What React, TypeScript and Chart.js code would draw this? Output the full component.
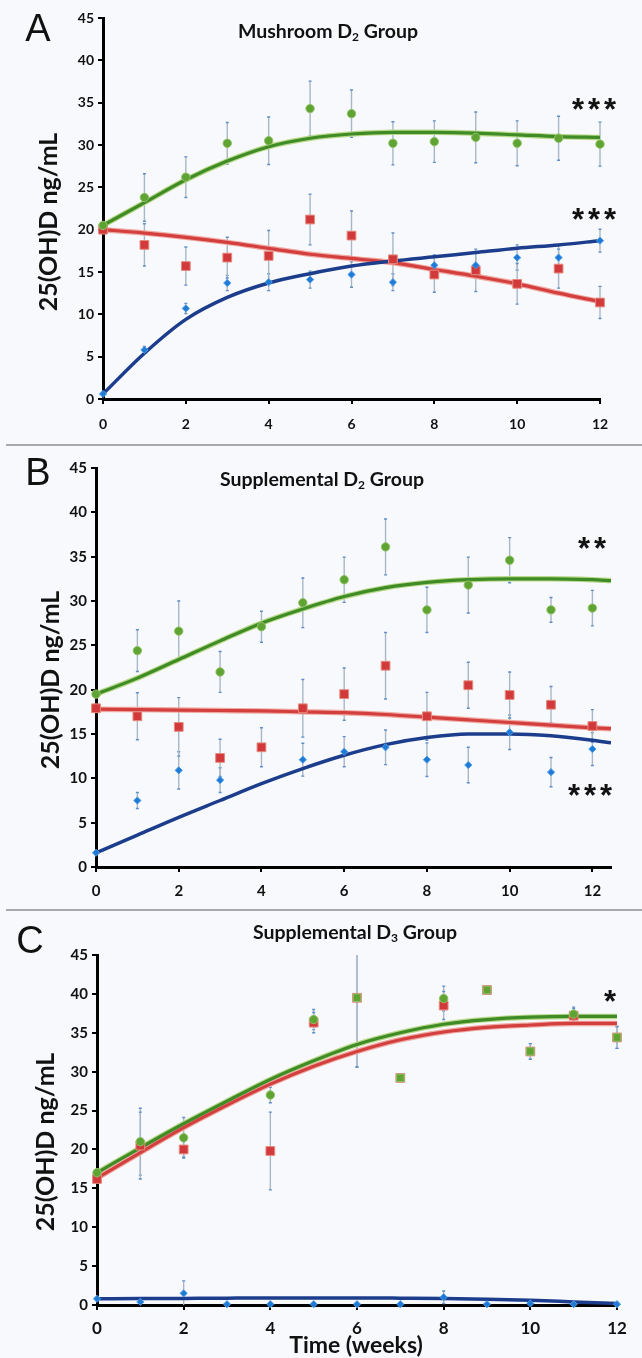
import React, { useEffect, useRef } from "react";
import { Chart, registerables } from "chart.js";
Chart.register(...registerables);

// ---------- shared ----------
const weeks = [0, 1, 2, 3, 4, 5, 6, 7, 8, 9, 10, 11, 12];
const xTickValues = [0, 2, 4, 6, 8, 10, 12];
const yTickValues = [0, 5, 10, 15, 20, 25, 30, 35, 40, 45];
const yAxisTitle = "25(OH)D ng/mL";
const xAxisTitle = "Time (weeks)";

// ---------- Panel A: Mushroom D2 ----------
const aGreen = [20.5, 23.8, 26.2, 30.2, 30.5, 34.3, 33.7, 30.2, 30.4, 30.9, 30.2, 30.8, 30.1];
const aGreenErr = [0, 2.8, 2.4, 2.45, 2.8, 3.25, 2.8, 2.55, 2.45, 3.0, 2.65, 2.6, 2.6];
const aRed = [20.0, 18.2, 15.7, 16.7, 16.9, 21.2, 19.3, 16.5, 14.7, 15.2, 13.6, 15.4, 11.4];
const aRedErr = [0, 2.5, 2.25, 2.4, 3.0, 3.0, 2.9, 3.1, 2.1, 2.5, 2.4, 2.3, 1.9];
const aBlue = [0.6, 5.8, 10.7, 13.7, 13.8, 14.1, 14.7, 13.8, 15.8, 15.8, 16.7, 16.7, 18.7];
const aBlueErr = [0, 0.4, 0.6, 0.9, 1.0, 1.0, 1.5, 1.0, 1.2, 1.5, 1.5, 1.5, 1.35];
const aFitX = [0, 1, 2, 3, 4, 5, 6, 7, 8, 9, 10, 11, 12];
const aGreenFit = [20.5, 23.2, 25.9, 28.1, 29.8, 30.8, 31.3, 31.5, 31.5, 31.4, 31.2, 31.0, 30.9];
const aRedFit = [20.0, 19.6, 19.1, 18.5, 17.8, 17.1, 16.6, 16.1, 15.3, 14.5, 13.6, 12.5, 11.5];
const aBlueFit = [0.6, 5.4, 9.4, 12.0, 13.7, 14.8, 15.7, 16.3, 16.8, 17.3, 17.8, 18.2, 18.7];

// ---------- Panel B: Supplemental D2 ----------
const bGreen = [19.5, 24.4, 26.6, 22.0, 27.1, 29.8, 32.4, 36.1, 29.0, 31.8, 34.6, 29.0, 29.2];
const bGreenErr = [0, 2.35, 3.4, 2.3, 1.75, 2.8, 2.55, 3.15, 2.55, 3.15, 2.55, 1.4, 2.0];
const bRed = [17.9, 17.0, 15.8, 12.3, 13.5, 17.9, 19.5, 22.7, 17.0, 20.5, 19.4, 18.3, 15.9];
const bRedErr = [0, 2.65, 3.3, 2.1, 2.2, 3.25, 2.95, 3.75, 2.7, 2.6, 2.6, 2.05, 1.85];
const bBlue = [1.6, 7.5, 10.9, 9.8, null, 12.1, 13.0, 13.5, 12.1, 11.5, 15.2, 10.7, 13.3];
const bBlueErr = [0, 0.9, 2.1, 1.4, 0, 1.85, 1.7, 1.95, 1.9, 2.0, 1.95, 1.65, 1.85];
const bFitX = [0, 1, 2, 3, 4, 5, 6, 7, 8, 9, 10, 11, 12, 12.45];
const bGreenFit = [19.5, 21.3, 23.4, 25.5, 27.5, 29.1, 30.5, 31.5, 32.1, 32.4, 32.5, 32.5, 32.4, 32.3];
const bRedFit = [17.8, 17.75, 17.7, 17.65, 17.6, 17.5, 17.4, 17.2, 16.9, 16.6, 16.3, 16.0, 15.7, 15.6];
const bBlueFit = [1.6, 3.6, 5.6, 7.5, 9.4, 11.1, 12.6, 13.8, 14.6, 15.0, 15.0, 14.8, 14.3, 14.0];

// ---------- Panel C: Supplemental D3 ----------
const cGreen = [17.0, 21.0, 21.5, null, 27.0, 36.7, 39.5, 29.2, 39.4, 40.5, 32.6, 37.4, 34.4];
const cGreenErr = [0, 4.3, 2.6, 0, 1.0, 1.3, 8.9, 0, 1.6, 0, 1.0, 0.9, 1.4];
const cGreenShape = ["circle", "circle", "circle", "circle", "circle", "circle", "rect", "rect", "circle", "rect", "rect", "circle", "rect"];
const cRed = [16.2, 20.5, 20.0, null, 19.8, 36.3, 39.5, 29.2, 38.5, 40.5, 32.6, 37.2, 34.4];
const cRedErr = [0, 4.3, 1.0, 0, 5.0, 1.3, 8.9, 0, 1.8, 0, 1.0, 0.9, 1.4];
const cBlue = [0.8, 0.4, 1.5, 0.1, 0.1, 0.1, 0.1, 0.1, 1.0, 0.1, 0.2, 0.1, 0.1];
const cBlueErr = [0, 0, 1.6, 0, 0, 0, 0, 0, 0.8, 0, 0, 0, 0];
const cFitX = [0, 1, 2, 3, 4, 5, 6, 7, 8, 9, 10, 11, 12];
const cGreenFit = [17.0, 20.2, 23.3, 26.2, 29.0, 31.4, 33.5, 35.0, 36.1, 36.7, 37.0, 37.1, 37.1];
const cRedFit = [16.3, 19.6, 22.8, 25.7, 28.4, 30.7, 32.6, 34.1, 35.1, 35.7, 36.0, 36.2, 36.2];
const cBlueFit = [0.8, 0.82, 0.85, 0.88, 0.9, 0.9, 0.9, 0.88, 0.85, 0.75, 0.6, 0.4, 0.2];

// ---------- styling ----------
const BG = "#f8f9fc";
const GREEN_PT = "#5fa332";
const GREEN_LINE = "#3f8c27";
const GREEN_GLOW = "#b9d98a";
const RED_PT = "#d2393a";
const RED_LINE = "#d33f3f";
const RED_GLOW = "#f0a8a0";
const BLUE_PT = "#1f7ad6";
const BLUE_LINE = "#1c3d8c";
const ERR_COLOR = "#a8b7c7";
const CAP_COLOR = "#5e8fc8";
const FONT = "Lato, 'Open Sans', sans-serif";

function pts(xs: number[], ys: (number | null)[], errs?: number[]) {
  const out: any[] = [];
  xs.forEach((x, i) => {
    const y = ys[i];
    if (y === null || y === undefined) return;
    out.push({ x, y, e: errs ? errs[i] : 0 });
  });
  return out;
}

function keepShapes(ys: (number | null)[], shapes: string[] | string) {
  if (typeof shapes === "string") return shapes;
  return shapes.filter((_, i) => ys[i] !== null && ys[i] !== undefined);
}

const errorBarPlugin = {
  id: "errorBars",
  beforeDatasetsDraw(chart: any) {
    const { ctx, chartArea, scales } = chart;
    const xs = scales.x;
    const ys = scales.y;
    ctx.save();
    ctx.beginPath();
    ctx.rect(chartArea.left - 10, chartArea.top, chartArea.right - chartArea.left + 20, chartArea.bottom - chartArea.top);
    ctx.clip();
    chart.data.datasets.forEach((ds: any) => {
      if (!ds.isMarker) return;
      ds.data.forEach((p: any) => {
        if (!p.e) return;
        const px = xs.getPixelForValue(p.x);
        const t = ys.getPixelForValue(p.y + p.e);
        const b = ys.getPixelForValue(p.y - p.e);
        ctx.strokeStyle = ERR_COLOR;
        ctx.lineWidth = 1.4;
        ctx.beginPath();
        ctx.moveTo(px, t);
        ctx.lineTo(px, b);
        ctx.stroke();
        ctx.strokeStyle = CAP_COLOR;
        ctx.lineWidth = 1.4;
        ctx.beginPath();
        ctx.moveTo(px - 1.5, t);
        ctx.lineTo(px + 1.5, t);
        ctx.moveTo(px - 1.5, b);
        ctx.lineTo(px + 1.5, b);
        ctx.stroke();
      });
    });
    ctx.restore();
  },
};

type Spec = {
  top: number;
  height: number;
  area: { left: number; right: number; top: number; bottom: number };
  xMax: number;
  xPad: number;
  xFont: number;
  yFont: number;
  fitX: number[];
  green: (number | null)[];
  greenErr: number[];
  greenShape: string[] | string;
  red: (number | null)[];
  redErr: number[];
  blue: (number | null)[];
  blueErr: number[];
  greenFit: number[];
  redFit: number[];
  blueFit: number[];
};

function lineDs(xs: number[], ys: number[], color: string, width: number, order: number) {
  return {
    type: "scatter",
    data: pts(xs, ys),
    showLine: true,
    borderColor: color,
    backgroundColor: color,
    borderWidth: width,
    pointRadius: 0,
    pointHoverRadius: 0,
    cubicInterpolationMode: "monotone",
    order,
  };
}

function markerDs(xs: number[], ys: (number | null)[], errs: number[], style: any, radius: any, fill: string, border: string, order: number) {
  return {
    type: "scatter",
    data: pts(xs, ys, errs),
    isMarker: true,
    showLine: false,
    pointStyle: style,
    pointRadius: radius,
    pointHoverRadius: radius,
    backgroundColor: fill,
    borderColor: border,
    borderWidth: 1,
    clip: false,
    order,
  };
}

function Panel({ spec }: { spec: Spec }) {
  const ref = useRef<HTMLCanvasElement>(null);
  useEffect(() => {
    if (!ref.current) return;
    const W = 642;
    const H = spec.height;
    const a = spec.area;
    const gShapes = keepShapes(spec.green, spec.greenShape);
    const gRadius = typeof gShapes === "string" ? 4.2 : (gShapes as string[]).map((s) => (s === "rect" ? 5.3 : 4.2));
    const chart = new Chart(ref.current, {
      type: "scatter",
      data: {
        datasets: [
          markerDs(weeks, spec.blue, spec.blueErr, "rectRot", 3.6, BLUE_PT, "#4d9be6", 1),
          markerDs(weeks, spec.green, spec.greenErr, gShapes, gRadius, GREEN_PT, "#8fc267", 2),
          markerDs(weeks, spec.red, spec.redErr, "rect", 6.2, RED_PT, "#e58a7e", 3),
          lineDs(spec.fitX, spec.blueFit, BLUE_LINE, 3.5, 4),
          lineDs(spec.fitX, spec.redFit, RED_LINE, 3.2, 5),
          lineDs(spec.fitX, spec.greenFit, GREEN_LINE, 3.2, 6),
          lineDs(spec.fitX, spec.redFit, RED_GLOW, 5.5, 7),
          lineDs(spec.fitX, spec.greenFit, GREEN_GLOW, 5.5, 8),
        ] as any,
      },
      options: {
        animation: false,
        responsive: false,
        maintainAspectRatio: false,
        events: [],
        layout: { padding: { left: 0, right: W - a.right, top: a.top, bottom: 0 } },
        plugins: { legend: { display: false }, tooltip: { enabled: false }, title: { display: false } },
        scales: {
          x: {
            type: "linear",
            min: 0,
            max: spec.xMax,
            afterFit(scale: any) {
              scale.height = H - a.bottom;
            },
            afterBuildTicks(scale: any) {
              scale.ticks = xTickValues.map((v) => ({ value: v }));
            },
            ticks: {
              color: "#111",
              font: { family: FONT, weight: "bold", size: spec.xFont },
              padding: spec.xPad,
              maxRotation: 0,
              autoSkip: false,
            },
            grid: { display: true, drawOnChartArea: false, drawTicks: true, tickLength: 5, color: "#000", lineWidth: 2 },
            border: { display: true, color: "#000", width: 3 },
          },
          y: {
            type: "linear",
            min: 0,
            max: 45,
            afterFit(scale: any) {
              scale.width = a.left;
            },
            afterBuildTicks(scale: any) {
              scale.ticks = yTickValues.map((v) => ({ value: v }));
            },
            ticks: {
              color: "#111",
              font: { family: FONT, weight: "bold", size: spec.yFont },
              padding: 4,
              autoSkip: false,
            },
            grid: { display: true, drawOnChartArea: false, drawTicks: true, tickLength: 5, color: "#000", lineWidth: 2 },
            border: { display: true, color: "#000", width: 3 },
          },
        },
      } as any,
      plugins: [errorBarPlugin as any],
    });
    return () => chart.destroy();
  }, []);
  return (
    <div style={{ position: "absolute", left: 0, top: spec.top, width: 642, height: spec.height }}>
      <canvas ref={ref} width={642} height={spec.height} style={{ width: 642, height: spec.height, display: "block" }} />
    </div>
  );
}

const specA: Spec = {
  top: 0, height: 445, area: { left: 103, right: 600, top: 18, bottom: 399 }, xMax: 12, xPad: 12, xFont: 14, yFont: 14,
  fitX: aFitX, green: aGreen, greenErr: aGreenErr, greenShape: "circle", red: aRed, redErr: aRedErr, blue: aBlue, blueErr: aBlueErr,
  greenFit: aGreenFit, redFit: aRedFit, blueFit: aBlueFit,
};
const specB: Spec = {
  top: 447, height: 462, area: { left: 96, right: 611, top: 21, bottom: 420 }, xMax: 12.45, xPad: 10, xFont: 15, yFont: 15,
  fitX: bFitX, green: bGreen, greenErr: bGreenErr, greenShape: "circle", red: bRed, redErr: bRedErr, blue: bBlue, blueErr: bBlueErr,
  greenFit: bGreenFit, redFit: bRedFit, blueFit: bBlueFit,
};
const specC: Spec = {
  top: 911, height: 447, area: { left: 97, right: 617, top: 44, bottom: 394 }, xMax: 12, xPad: 8, xFont: 17, yFont: 15,
  fitX: cFitX, green: cGreen, greenErr: cGreenErr, greenShape: cGreenShape, red: cRed, redErr: cRedErr, blue: cBlue, blueErr: cBlueErr,
  greenFit: cGreenFit, redFit: cRedFit, blueFit: cBlueFit,
};

function Label({ x, y, children, style }: any) {
  return (
    <div
      style={{
        position: "absolute",
        left: x,
        top: y,
        transform: "translate(-50%, -50%)",
        whiteSpace: "nowrap",
        lineHeight: 1,
        color: "#111",
        ...style,
      }}
    >
      {children}
    </div>
  );
}

function YTitle({ x, y }: { x: number; y: number }) {
  return (
    <div
      style={{
        position: "absolute",
        left: x,
        top: y,
        transform: "translate(-50%, -50%) rotate(-90deg)",
        whiteSpace: "nowrap",
        lineHeight: 1,
        fontFamily: FONT,
        fontWeight: 700,
        fontSize: 25,
        color: "#111",
      }}
    >
      {yAxisTitle}
    </div>
  );
}

const letterStyle = { fontFamily: "'Liberation Sans', Arial, sans-serif", fontSize: 38, color: "#111" };
const titleStyle = { fontFamily: FONT, fontWeight: 700, fontSize: 19.5, color: "#111" };
const starStyle = { fontFamily: "'Liberation Sans', Arial, sans-serif", fontWeight: 700, fontSize: 31, letterSpacing: 4, color: "#111" };
const subStyle: any = { fontSize: 12, verticalAlign: "-3px" };

export default function App() {
  return (
    <div style={{ position: "absolute", left: 0, top: 0, width: 642, height: 1358, background: BG, overflow: "hidden" }}>
      <Panel spec={specA} />
      <Panel spec={specB} />
      <Panel spec={specC} />
      {/* separators */}
      <div style={{ position: "absolute", left: 6, top: 444, width: 636, height: 2, background: "#a9a9a9" }} />
      <div style={{ position: "absolute", left: 6, top: 909, width: 636, height: 2, background: "#a9a9a9" }} />
      {/* panel letters */}
      <Label x={38} y={28} style={letterStyle}>A</Label>
      <Label x={38} y={472} style={letterStyle}>B</Label>
      <Label x={30} y={940} style={letterStyle}>C</Label>
      {/* titles */}
      <Label x={328} y={32} style={titleStyle}>Mushroom D<span style={subStyle}>2</span> Group</Label>
      <Label x={322} y={480} style={titleStyle}>Supplemental D<span style={subStyle}>2</span> Group</Label>
      <Label x={355} y={933} style={titleStyle}>Supplemental D<span style={subStyle}>3</span> Group</Label>
      {/* y-axis titles */}
      <YTitle x={47} y={222} />
      <YTitle x={49} y={680} />
      <YTitle x={44} y={1142} />
      {/* x-axis title */}
      <Label x={356} y={1344} style={{ fontFamily: FONT, fontWeight: 700, fontSize: 23 }}>{xAxisTitle}</Label>
      {/* significance marks */}
      <Label x={596} y={109} style={starStyle}>***</Label>
      <Label x={596} y={219} style={starStyle}>***</Label>
      <Label x={594} y={548} style={starStyle}>**</Label>
      <Label x={592} y={795} style={starStyle}>***</Label>
      <Label x={612} y={1001} style={starStyle}>*</Label>
    </div>
  );
}
